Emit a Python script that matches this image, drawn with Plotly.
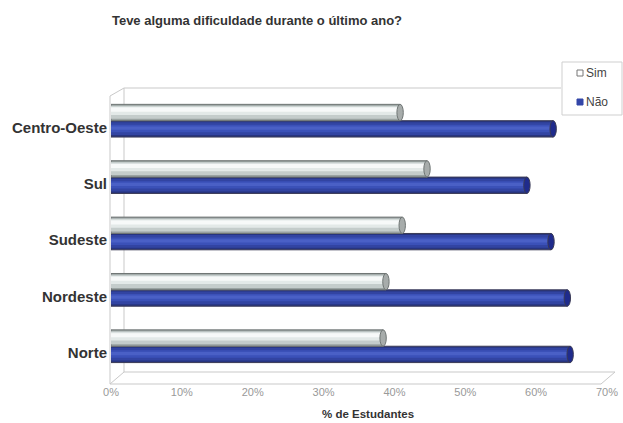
import plotly.graph_objects as go

# data (% de Estudantes)
regioes = ['Norte', 'Nordeste', 'Sudeste', 'Sul', 'Centro-Oeste']
sim = [38.4, 38.8, 41.1, 44.6, 40.8]
nao = [64.8, 64.4, 62.1, 58.7, 62.4]
x_ticks = [0, 10, 20, 30, 40, 50, 60, 70]
x_labels = ['0%', '10%', '20%', '30%', '40%', '50%', '60%', '70%']

W, H = 623, 423
L, R, T, B = 111, 16, 88, 39
PW, PH = W - L - R, H - T - B
pos = list(range(len(regioes)))


def px(x, y):
    # page pixels -> paper coords (for frame / legend decoration)
    return (x - L) / PW, (H - B - y) / PH


fig = go.Figure()
shapes = []

# cylinder look: dark body + lighter stripes on top, elliptic cap at the end
def add_cyl(vals, off, wid, layers, line_col, cap_fill):
    for i, (col, f0, f1) in enumerate(layers):
        fig.add_trace(go.Bar(
            y=pos, x=vals, orientation='h',
            offset=off + wid * f0, width=wid * (f1 - f0),
            marker=dict(color=col,
                        line=dict(color=line_col if i == 0 else col, width=1 if i == 0 else 0)),
            hovertext=regioes, hoverinfo='x+text',
        ))
    for p, v in zip(pos, vals):
        shapes.append(dict(type='circle', xref='x', yref='y',
                           x0=v - 0.45, x1=v + 0.45, y0=p + off, y1=p + off + wid,
                           fillcolor=cap_fill, line=dict(color=line_col, width=1)))

add_cyl(nao, -0.17, 0.29,
        [('#27347f', 0, 1), ('#3244a2', 0.12, 0.9), ('#3b51b8', 0.3, 0.75), ('#4a60c6', 0.45, 0.65)],
        '#3a3a55', '#1f2b8c')
add_cyl(sim, 0.12, 0.29,
        [('#9aa3a2', 0, 1), ('#c4cccb', 0.12, 0.92), ('#e3e9e8', 0.35, 0.85), ('#f7f9f9', 0.55, 0.8)],
        '#6f7574', '#a7acab')

# 3D frame (back wall, side wall, floor)
frame = '#c9c9c9'
segs = [
    ((124, 88), (561, 88)),
    ((124, 88), (124, 372)),
    ((110, 96), (124, 88)),
    ((110, 96), (110, 384)),
    ((110, 384), (601, 384)),
    ((124, 372), (615, 372)),
    ((110, 384), (124, 372)),
    ((601, 384), (615, 372)),
]
for (a, b) in segs:
    x0, y0 = px(*a)
    x1, y1 = px(*b)
    shapes.append(dict(type='line', xref='paper', yref='paper', x0=x0, y0=y0, x1=x1, y1=y1,
                       line=dict(color=frame, width=1), layer='below'))

# legend box drawn by hand (Excel-style small squares)
lx0, ly0 = px(562, 62)
lx1, ly1 = px(622, 115)
shapes.append(dict(type='rect', xref='paper', yref='paper', x0=lx0, y0=ly0, x1=lx1, y1=ly1,
                   line=dict(color='#cfcfcf', width=1), fillcolor='white'))
legend_items = [('Sim', 73, 'white', '#777'), ('Não', 102, '#3346a8', '#3346a8')]
annotations = []
for name, yc, fill, edge in legend_items:
    sx0, sy0 = px(577, yc - 3)
    sx1, sy1 = px(583, yc + 3)
    shapes.append(dict(type='rect', xref='paper', yref='paper', x0=sx0, y0=sy0, x1=sx1, y1=sy1,
                       fillcolor=fill, line=dict(color=edge, width=1)))
    tx, ty = px(584, yc)
    annotations.append(dict(text=name, xref='paper', yref='paper', x=tx, y=ty,
                            xanchor='left', yanchor='middle', showarrow=False,
                            font=dict(size=12, color='#444')))

ax, ay = px(368, 414)
annotations.append(dict(text='% de Estudantes', xref='paper', yref='paper', x=ax, y=ay,
                        xanchor='center', yanchor='middle', showarrow=False,
                        font=dict(size=11.5, weight='bold', color='#333')))

fig.update_layout(
    width=W, height=H,
    margin=dict(l=L, r=R, t=T, b=B, autoexpand=False),
    paper_bgcolor='white', plot_bgcolor='rgba(0,0,0,0)',
    barmode='overlay', showlegend=False,
    font=dict(family='Liberation Sans, Arial, sans-serif', color='#333'),
    title=dict(text='Teve alguma dificuldade durante o último ano?',
               x=257 / W, xanchor='center', y=1 - 20 / H, yanchor='middle',
               font=dict(size=13, weight='bold', color='#333')),
    xaxis=dict(range=[0, 70], tickvals=x_ticks, ticktext=x_labels, automargin=False,
               showgrid=False, zeroline=False, showline=False, ticks='',
               tickfont=dict(size=11, color='#999')),
    yaxis=dict(range=[-0.55, 4.7], tickvals=pos, ticktext=regioes,
               showgrid=False, zeroline=False, showline=False, automargin=False,
               ticks='outside', ticklen=0, tickcolor='rgba(0,0,0,0)',
               tickfont=dict(size=15, weight='bold', color='#333')),
    annotations=annotations,
    shapes=shapes,
)

# page body has an 8px default margin; drop it so the figure fills the window
fig.write_html('out.html', config={'displayModeBar': False},
               post_script="document.body.style.margin='0';")
